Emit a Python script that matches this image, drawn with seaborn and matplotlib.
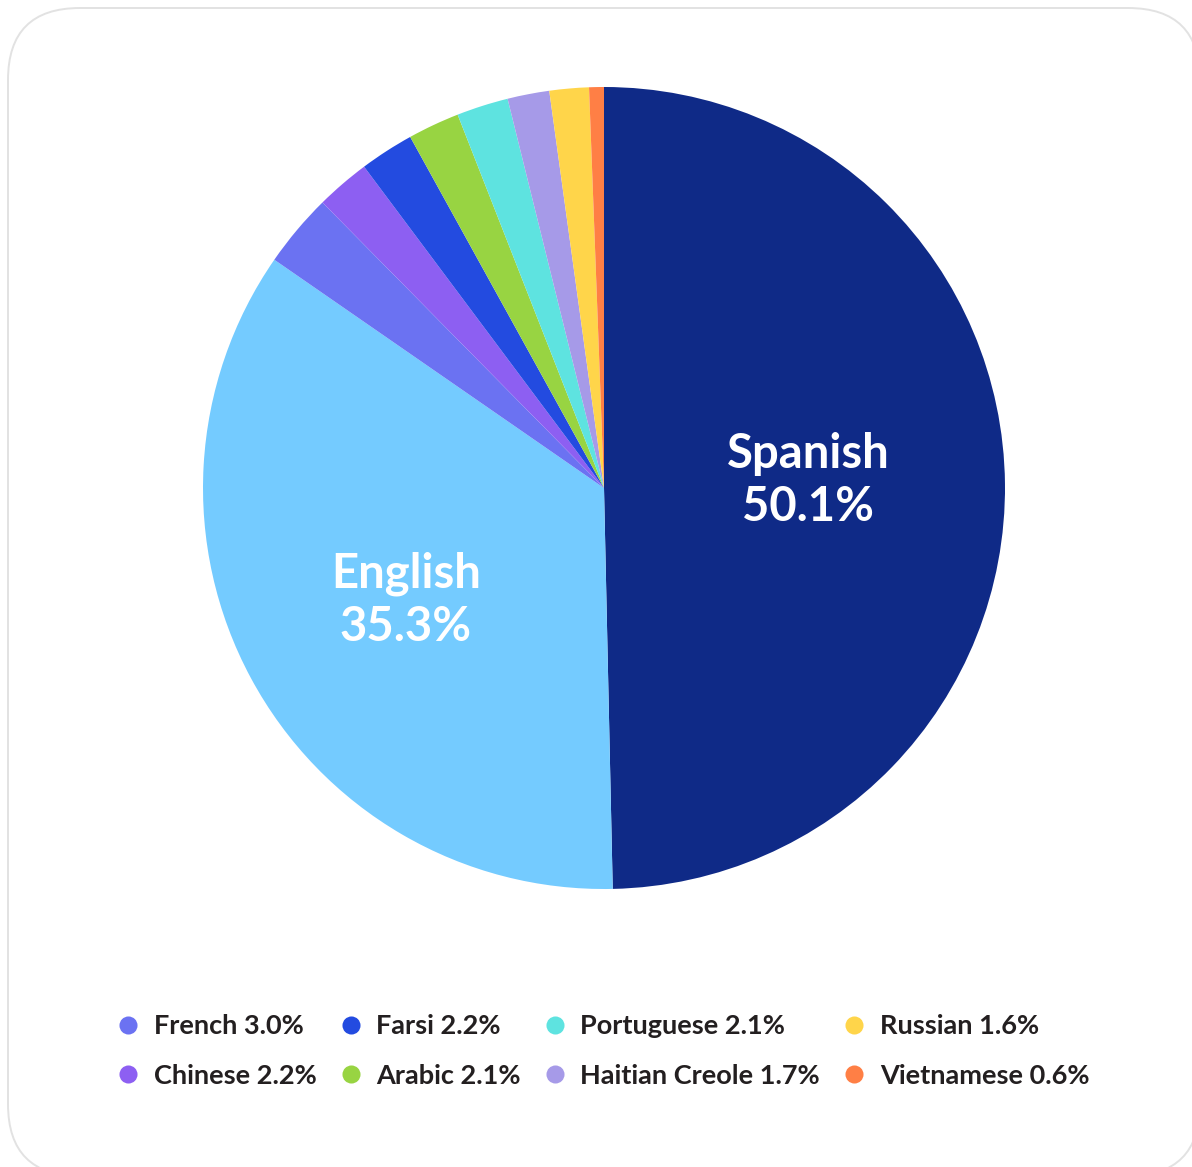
import matplotlib
matplotlib.use("Agg")
import matplotlib.pyplot as plt
from matplotlib.patches import FancyBboxPatch
from matplotlib.lines import Line2D
import seaborn as sns

# Share of respondents by primary language
languages = ["Spanish", "English", "French", "Chinese", "Farsi", "Arabic",
             "Portuguese", "Haitian Creole", "Russian", "Vietnamese"]
shares = [50.1, 35.3, 3.0, 2.2, 2.2, 2.1, 2.1, 1.7, 1.6, 0.6]
colors = ["#0f2a87", "#74cbff", "#6b72f2", "#8d5ff2", "#234be0", "#98d442",
          "#5ee3e0", "#a69ae8", "#ffd54a", "#ff7f45"]
# Languages named directly on their wedge (label baseline positions)
inside_labels = {"Spanish": (0.509, 0.050), "English": (-0.494, -0.249)}

sns.set_theme(style="white")
plt.rcParams["font.family"] = ["Lato", "DejaVu Sans"]

W, H, DPI = 1192, 1167, 100
fig = plt.figure(figsize=(W / DPI, H / DPI), dpi=DPI)
fig.patch.set_facecolor("white")

# Card background with rounded corners, in pixel coordinates
bg = fig.add_axes([0, 0, 1, 1])
bg.set_xlim(0, W)
bg.set_ylim(H, 0)
bg.axis("off")
card = FancyBboxPatch((8, 8), 1192, 1168,
                      boxstyle="round,pad=0,rounding_size=72",
                      facecolor="white", edgecolor="#e2e2e2", linewidth=1.4)
bg.add_patch(card)

# Pie axes: centre (604, 488) px, radius 401 px
cx, cy, r = 604, 488, 401
ax = fig.add_axes([(cx - r) / W, (H - cy - r) / H, 2 * r / W, 2 * r / H])
ax.pie(shares, colors=colors, startangle=90, counterclock=False,
       radius=1.0, wedgeprops=dict(linewidth=0))
ax.set_xlim(-1, 1)
ax.set_ylim(-1, 1)
ax.set_aspect("equal")
ax.axis("off")

for lang, val in zip(languages, shares):
    if lang in inside_labels:
        x, y = inside_labels[lang]
        ax.text(x, y, lang, ha="center", va="baseline", color="white",
                fontsize=34, fontweight="bold")
        ax.text(x, y - 0.133, f"{val:.1f}%", ha="center", va="baseline",
                color="white", fontsize=34, fontweight="bold")

# Legend for the small slices
handles = []
for lang, val, col in zip(languages, shares, colors):
    if lang in inside_labels:
        continue
    handles.append(Line2D([], [], marker="o", linestyle="none",
                          markersize=13, markerfacecolor=col,
                          markeredgewidth=0, label=f"{lang} {val:.1f}%"))

leg = fig.legend(handles=handles, ncol=4, loc="center",
                 bbox_to_anchor=(602 / W, 1 - 1051 / H), frameon=False,
                 prop=dict(family=["Lato", "DejaVu Sans"], weight="bold", size=19.5),
                 handletextpad=0.45, columnspacing=0.75, labelspacing=0.95,
                 handlelength=1.0)
for t in leg.get_texts():
    t.set_color("#231f20")

fig.savefig("out.png", dpi=DPI, facecolor="white")
